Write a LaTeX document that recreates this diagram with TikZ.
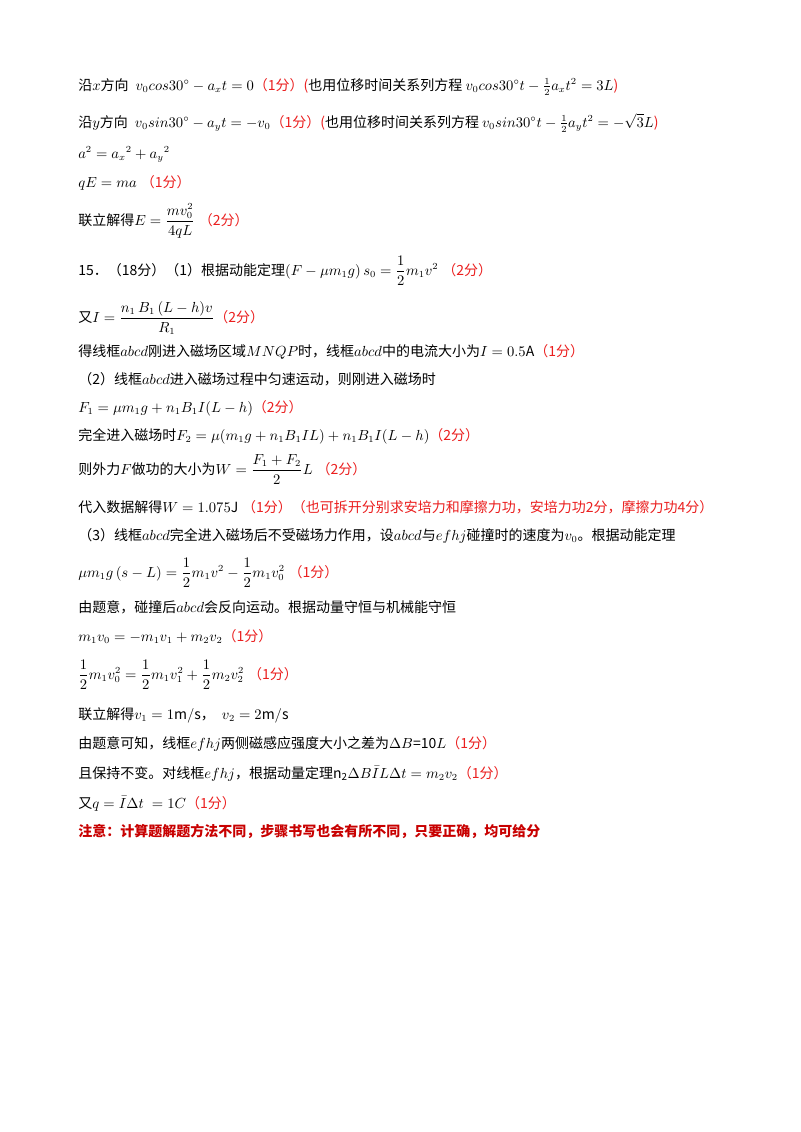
\documentclass[tikz,border=0pt]{standalone}
\usepackage{amsmath}
\usepackage{fontspec}
\setmainfont{Noto Sans CJK SC}
\definecolor{rd}{RGB}{235,30,30}
\definecolor{drd}{RGB}{200,0,0}
\newcommand{\fen}[1]{\textcolor{rd}{（#1分）}}
\begin{document}
\begin{tikzpicture}[x=0.75pt,y=-0.75pt,every node/.style={anchor=base west,inner sep=0pt,font=\fontsize{10.5}{12}\selectfont}]
\useasboundingbox[fill=white] (0,0) rectangle (800,1132);
\node (l1) at (78,90) {沿$x$方向\; $v_0cos30^\circ - a_xt=0$\fen{1}\textcolor{rd}{(}也用位移时间关系列方程 $v_0cos30^\circ t-\frac12a_xt^2=3L$\textcolor{rd}{)}};
\node (l2) at (78,127) {沿$y$方向\; $v_0sin30^\circ - a_yt=-v_0$\fen{1}\textcolor{rd}{(}也用位移时间关系列方程 $v_0sin30^\circ t-\frac12a_yt^2=-\sqrt3L$\textcolor{rd}{)}};
\node (l3) at (78,158) {$a^2=a_x{}^2+a_y{}^2$};
\node (l4) at (78,187) {$qE=ma$\;\fen{1}};
\node (l5) at (78,225) {联立解得$E=\dfrac{mv_0^2}{4qL}$\;\fen{2}};
\node (l6) at (78,275) {15．（18分）（1）根据动能定理$\left(F-\mu m_1g\right)s_0=\dfrac12m_1v^2$\;\fen{2}};
\node (l7) at (78,322) {又$I=\dfrac{n_1\,B_1\,(L-h)v}{R_1}$\fen{2}};
\node (l8) at (78,356) {得线框$abcd$刚进入磁场区域$MNQP$时，线框$abcd$中的电流大小为$I=0.5\mathrm{A}$\fen{1}};
\node (l9) at (78,384) {（2）线框$abcd$进入磁场过程中匀速运动，则刚进入磁场时};
\node (l10) at (78,412) {$F_1=\mu m_1g+n_1B_1I(L-h)$\fen{2}};
\node (l11) at (78,440) {完全进入磁场时$F_2=\mu(m_1g+n_1B_1IL)+n_1B_1I(L-h)$\fen{2}};
\node (l12) at (78,474) {则外力$F$做功的大小为$W=\dfrac{F_1+F_2}{2}L$\;\fen{2}};
\node (l13) at (78,512) {代入数据解得$W=1.075\mathrm{J}$\;\textcolor{rd}{（1分）（也可拆开分别求安培力和摩擦力功，安培力功2分，摩擦力功4分）}};
\node (l14) at (78,540) {（3）线框$abcd$完全进入磁场后不受磁场力作用，设$abcd$与$efhj$碰撞时的速度为$v_0$。根据动能定理};
\node (l15) at (78,577) {$\mu m_1g\left(s-L\right)=\dfrac12m_1v^2-\dfrac12m_1v_0^2$\;\fen{1}};
\node (l16) at (78,612) {由题意，碰撞后$abcd$会反向运动。根据动量守恒与机械能守恒};
\node (l17) at (78,641) {$m_1v_0=-m_1v_1+m_2v_2$\fen{1}};
\node (l18) at (78,679) {$\dfrac12m_1v_0^2=\dfrac12m_1v_1^2+\dfrac12m_2v_2^2$\;\fen{1}};
\node (l19) at (78,719) {联立解得$v_1=1\mathrm{m/s}$，\; $v_2=2\mathrm{m/s}$};
\node (l20) at (78,748) {由题意可知，线框$efhj$两侧磁感应强度大小之差为$\Delta B$=10$L$\fen{1}};
\node (l21) at (78,778) {且保持不变。对线框$efhj$，根据动量定理$\mathrm{n_2}\Delta B\bar I L\Delta t=m_2v_2$\fen{1}};
\node (l22) at (78,808) {又$q=\bar I\Delta t\;=1C$\fen{1}};
\node (l23) at (78,836) {\textbf{\textcolor{drd}{注意：计算题解题方法不同，步骤书写也会有所不同，只要正确，均可给分}}};
\end{tikzpicture}
\end{document}
